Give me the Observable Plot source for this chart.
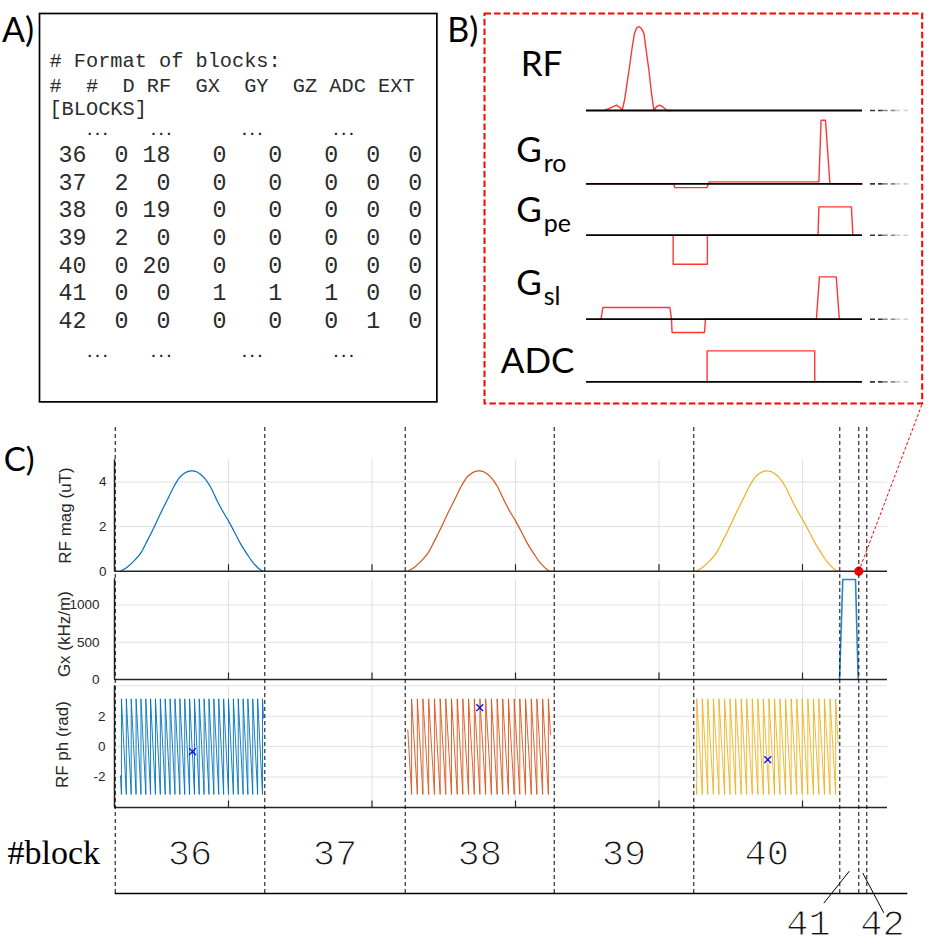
<!DOCTYPE html>
<html><head><meta charset="utf-8">
<script src="https://cdn.jsdelivr.net/npm/d3@7"></script>
<script src="https://cdn.jsdelivr.net/npm/@observablehq/plot@0.6"></script>
<style>
body{margin:0;background:#fff;}
#page{position:relative;width:933px;height:949px;overflow:hidden;background:#fff;}
#page svg{position:absolute;overflow:visible;background:transparent;max-width:none;}
</style></head><body><div id="page"></div>
<script>
// ================= DATA =================
// ---- Panel A: the [BLOCKS] table of the sequence file ----
const headerLines = ["# Format of blocks:", "#  #  D RF  GX  GY  GZ ADC EXT", "[BLOCKS]"];
const blockIds = [36, 37, 38, 39, 40, 41, 42];
const colD   = [0, 2, 0, 2, 0, 0, 0];
const colRF  = [18, 0, 19, 0, 20, 0, 0];
const colGX  = [0, 0, 0, 0, 0, 1, 0];
const colGY  = [0, 0, 0, 0, 0, 1, 0];
const colGZ  = [0, 0, 0, 0, 0, 1, 0];
const colADC = [0, 0, 0, 0, 0, 0, 1];
const colEXT = [0, 0, 0, 0, 0, 0, 0];

// ---- Panel B: schematic of one block (arbitrary time / amplitude units) ----
const bChannels = ["RF", "Gro", "Gpe", "Gsl", "ADC"];
const bRF_t  = [6.5, 8.7, 10.9, 12.3, 12.9, 13.8, 14.7, 15.6, 16.6, 17.4, 18.1, 19.0, 19.8, 20.8, 21.6, 22.6, 23.4, 24.4, 25.4, 26.5, 27.8, 29.2, 31.1];
const bRF_a  = [0, 0.27, 0.53, 0.27, 0, 1.07, 2.73, 4.4, 6.4, 7.73, 8.23, 8.4, 8.23, 7.73, 6.07, 4.07, 2.07, 0, 0.4, 0.53, 0.33, 0, 0];
const bGro_t = [0, 31.6, 32.0, 43.7, 44.4, 84.2, 85.0, 86.6, 88.2, 100];
const bGro_a = [0, 0, -0.37, -0.37, 0.2, 0.2, 6.37, 6.37, 0, 0];
const bGpe_t = [31.4, 31.4, 43.8, 43.8, 83.9, 84.2, 96.0, 96.5];
const bGpe_a = [0, -2.9, -2.9, 0, 0, 2.83, 2.83, 0];
const bGsl_t = [5.3, 5.9, 30.2, 30.8, 31.0, 42.75, 43.1, 83.3, 84.4, 90.5, 91.6];
const bGsl_a = [0, 1.17, 1.17, 0, -1.33, -1.33, 0, 0, 4.23, 4.23, 0];
const bADC_t = [43.7, 43.7, 82.7, 82.7];
const bADC_a = [0, 3.1, 3.1, 0];
const bLabelMain = ["RF", "G", "G", "G", "ADC"];
const bLabelSub  = ["", "ro", "pe", "sl", ""];

// ---- Panel C: sequence plot (time in ms) ----
const xTicks = [1, 2, 3, 4, 5];
const blockBounds = [0.2105, 1.2530, 2.2314, 3.2697, 4.2425, 5.2599, 5.3923, 5.4481];
const rfStart = [0.2474, 2.2495, 4.2592];
const rfEnd   = [1.2439, 3.2439, 5.2488];
const rfColors = ["#0072BD", "#D95319", "#EDB120"];
const rfShapeU   = [0, 0.047, 0.093, 0.140, 0.186, 0.233, 0.279, 0.326, 0.372, 0.419, 0.465, 0.500, 0.535, 0.581, 0.628, 0.674, 0.721, 0.753, 0.791, 0.837, 0.884, 0.930, 0.977, 1];
const rfShapeMag = [0, 0.18, 0.45, 0.80, 1.35, 1.95, 2.58, 3.18, 3.78, 4.25, 4.46, 4.50, 4.45, 4.22, 3.80, 3.18, 2.62, 2.28, 1.83, 1.26, 0.78, 0.36, 0.07, 0];
const gxT   = [5.2578, 5.2808, 5.3693, 5.3881];
const gxVal = [0, 1340, 1340, 0];
const phaseLimit = 3.1416;
const phStart = [-1.92, 1.10, -2.52];
const phEnd   = [1.88, 0.78, 0.17];
const phWraps36 = [0.254, 0.288, 0.322, 0.356, 0.390, 0.424, 0.457, 0.491, 0.525, 0.559, 0.593, 0.627, 0.661, 0.695, 0.729, 0.763, 0.796, 0.830, 0.864, 0.898, 0.932, 0.966, 1.000, 1.034, 1.068, 1.102, 1.135, 1.169, 1.203, 1.237];
const phWraps38 = [2.276, 2.316, 2.355, 2.395, 2.435, 2.475, 2.514, 2.554, 2.594, 2.633, 2.673, 2.713, 2.752, 2.792, 2.832, 2.872, 2.911, 2.951, 2.991, 3.030, 3.070, 3.110, 3.149, 3.189, 3.229];
const phWraps40 = [4.263, 4.302, 4.340, 4.379, 4.418, 4.457, 4.495, 4.534, 4.573, 4.611, 4.650, 4.689, 4.727, 4.766, 4.805, 4.843, 4.882, 4.921, 4.960, 4.998, 5.037, 5.076, 5.114, 5.153, 5.192, 5.231];
const phMarkT   = [0.749, 2.751, 4.758];
const phMarkVal = [-0.32, 2.56, -0.86];

// ================= LAYOUT =================
const page = document.getElementById("page");
const AX = "#262626";
const GRID = "#e1e1e1";
function place(svg, left, top) { svg.style.left = left + "px"; svg.style.top = top + "px"; page.appendChild(svg); return svg; }

// ---------- Panel A ----------
const A = {left: 39.3, top: 13.3, w: 397.4, h: 388.4};
const fieldWidths = [2, 3, 3, 4, 4, 4, 3, 3];
const fieldEnds = d3.cumsum(fieldWidths);
const cols = [blockIds, colD, colRF, colGX, colGY, colGZ, colADC, colEXT];
const cells = [];
blockIds.forEach((id, i) => cols.forEach((c, j) => cells.push({row: 4 + i, col: fieldEnds[j], txt: String(c[i])})));
const headerRows = [0.57, 1.47, 2.31];
const dotRows = [3.04, 11.04];
const dotCols = [2.79, 7.34, 13.84, 20.38];
const dots = dotRows.flatMap(r => dotCols.map(c => ({row: r, col: c})));
const nb = s => s.replace(/ /g, "\u00a0");

const plotA = Plot.plot({
  width: A.w, height: A.h, margin: 0,
  x: {domain: [-1.35, 27.04], axis: null},
  y: {domain: [12.664, -1.357], axis: null},
  style: {background: "transparent", overflow: "visible"},
  marks: [
    Plot.frame({stroke: "#000", strokeWidth: 1.7}),
    Plot.text(headerLines.map((s, i) => ({s: nb(s), row: headerRows[i]})), {x: -0.64, y: "row", text: "s", textAnchor: "start", lineAnchor: "bottom", fontFamily: "'Liberation Mono', monospace", fontSize: 20.3, fill: "#2b2b2b"}),
    Plot.text(cells, {x: "col", y: "row", text: "txt", textAnchor: "end", lineAnchor: "bottom", fontFamily: "'Liberation Mono', monospace", fontSize: 23.3, fill: "#2b2b2b"}),
    Plot.text(dots, {x: "col", y: "row", text: () => ".\u00a0.\u00a0.", textAnchor: "middle", lineAnchor: "bottom", fontFamily: "'Liberation Sans', sans-serif", fontWeight: "bold", fontSize: 14, fill: "#1a1a1a"}),
    Plot.text(["A)"], {text: d => d, frameAnchor: "top-left", dx: -37.6, dy: 28.4, textAnchor: "start", lineAnchor: "bottom", fontFamily: "Lato, sans-serif", fontSize: 34, fill: "#000"})
  ]
});
place(plotA, A.left, A.top);

// ---------- Panel B ----------
const B = {left: 484, top: 13.3, w: 437.7, h: 390};
const bOffset = [0, -7.34, -12.47, -20.87, -27.14];
const bLift = [3.43, 2.2, 1.33, 2.4, 0.9];
const bSeries = [[bRF_t, bRF_a], [bGro_t, bGro_a], [bGpe_t, bGpe_a], [bGsl_t, bGsl_a], [bADC_t, bADC_a]];
const bData = bSeries.flatMap(([ts, as], k) => ts.map((t, i) => ({ch: bChannels[k], t, v: bOffset[k] + as[i]})));
const bBase = bChannels.map((ch, k) => ({ch, y: bOffset[k]}));
const fadeSegs = [[102.9, 107.5, "#333"], [107.5, 112.1, "#8a8a8a"], [112.1, 116.7, "#cfcfcf"]];
const bFade = bBase.flatMap(b => fadeSegs.map(([x1, x2, c]) => ({y: b.y, x1, x2, c})));
const bLabels = bChannels.map((ch, k) => ({main: bLabelMain[k], sub: bLabelSub[k], y: bOffset[k] + bLift[k]}));

const plotB = Plot.plot({
  width: B.w, height: B.h, margin: 0,
  x: {domain: [-36.96, 121.63], axis: null},
  y: {domain: [-29.3, 9.7], axis: null},
  style: {background: "transparent", overflow: "visible"},
  marks: [
    Plot.frame({stroke: "#ff0000", strokeWidth: 2, strokeDasharray: "6.5,3"}),
    Plot.line(bData, {x: "t", y: "v", z: "ch", stroke: "#ff2020", strokeWidth: 1.4, strokeOpacity: 0.9}),
    Plot.ruleY(bBase, {y: "y", x1: 0, x2: 100, stroke: "#000", strokeWidth: 1.8}),
    Plot.ruleY(bFade, {y: "y", x1: "x1", x2: "x2", stroke: "c", strokeWidth: 1.6, strokeDasharray: "5,3"}),
    Plot.text(bLabels.filter(d => !d.sub), {x: d => d.main === "ADC" ? -17.7 : -16.3, y: "y", text: "main", textAnchor: "middle", lineAnchor: "bottom", fontFamily: "Lato, sans-serif", fontSize: 35, fill: "#000"}),
    Plot.text(bLabels.filter(d => d.sub), {x: -16.2, y: "y", text: "main", textAnchor: "end", lineAnchor: "bottom", fontFamily: "Lato, sans-serif", fontSize: 35, fill: "#000"}),
    Plot.text(bLabels.filter(d => d.sub), {x: -15.5, y: d => d.y - 1.0, text: "sub", textAnchor: "start", lineAnchor: "bottom", fontFamily: "Lato, sans-serif", fontSize: 25, fill: "#000"}),
    Plot.text(["B)"], {text: d => d, frameAnchor: "top-left", dx: -37.3, dy: 28.7, textAnchor: "start", lineAnchor: "bottom", fontFamily: "Lato, sans-serif", fontSize: 34, fill: "#000"})
  ]
});
place(plotB, B.left, B.top);

// ---------- Panel C ----------
const C_ML = 114, C_MR = 46, W = 933;
const xDomain = [0.2056, 5.5923];
const tickLen = 6.5;

function wavePlot({top, height, mt, mb, yDomain, yTicks, yGrid, tickPad, label, labelDx, labelDy, marks, after = []}) {
  const span = (yDomain[1] - yDomain[0]) / (height - mt - mb);
  const p = Plot.plot({
    width: W, height, marginLeft: C_ML, marginRight: C_MR, marginTop: mt, marginBottom: mb,
    x: {domain: xDomain, axis: null},
    y: {domain: yDomain, axis: null},
    style: {background: "transparent", overflow: "visible", fontFamily: "'Liberation Sans', Arial, sans-serif"},
    marks: [
      Plot.gridX(xTicks, {stroke: GRID, strokeOpacity: 1, strokeWidth: 1}),
      Plot.gridY(yGrid, {stroke: GRID, strokeOpacity: 1, strokeWidth: 1}),
      ...marks,
      Plot.ruleY([yDomain[0]], {stroke: AX, strokeWidth: 1.5}),
      Plot.ruleX([xDomain[0]], {stroke: AX, strokeWidth: 1.5}),
      Plot.ruleX(xTicks, {x: d => d, y1: yDomain[0], y2: yDomain[0] + tickLen * span, stroke: AX, strokeWidth: 1.2}),
      Plot.axisY(yTicks, {tickSize: 0, tickPadding: tickPad, tickFormat: d => String(d), fontSize: 13.5, color: AX, label: null}),
      Plot.text([label], {text: d => d, frameAnchor: "left", dx: labelDx, dy: labelDy, rotate: -90, textAnchor: "middle", lineAnchor: "bottom", fontSize: 17, fill: AX}),
      ...after
    ]
  });
  return place(p, 0, top);
}

// RF magnitude
const rfMag = rfStart.map((s, k) => rfShapeU.map((u, i) => ({t: s + u * (rfEnd[k] - s), v: rfShapeMag[i]})));
const RFM = {top: 445, height: 135, mt: 14.3, mb: 9.3};
wavePlot({
  ...RFM, yDomain: [0, 5], yTicks: [0, 2, 4], yGrid: [2, 4], tickPad: 8,
  label: "RF mag (uT)", labelDx: -43.5, labelDy: 0,
  marks: rfMag.map((d, k) => Plot.line(d, {x: "t", y: "v", stroke: rfColors[k], strokeWidth: 1.2, curve: "catmull-rom"})),
  after: [Plot.dot([{t: blockBounds[6], v: 0}], {x: "t", y: "v", r: 4.6, fill: "#ff0000"})]
});

// Gx
const gxData = gxT.map((t, i) => ({t, v: gxVal[i]}));
wavePlot({
  top: 571, height: 118, mt: 7.3, mb: 10, yDomain: [0, 1350], yTicks: [0, 500, 1000], yGrid: [500, 1000], tickPad: 15,
  label: "Gx (kHz/m)", labelDx: -44.5, labelDy: 5,
  marks: [Plot.line(gxData, {x: "t", y: "v", stroke: "#0072BD", strokeWidth: 1.6, strokeOpacity: 0.85})]
});

// RF phase
const wraps = [phWraps36, phWraps38, phWraps40];
const phData = wraps.map((ws, k) => [
  {t: rfStart[k], v: phStart[k]},
  ...ws.flatMap(w => [{t: w, v: -phaseLimit}, {t: w, v: phaseLimit}]),
  {t: rfEnd[k], v: phEnd[k]}
]);
const phMarks = phMarkT.map((t, i) => ({t, v: phMarkVal[i]}));
wavePlot({
  top: 680, height: 135, mt: 5.3, mb: 8, yDomain: [-4, 4], yTicks: [-2, 0, 2], yGrid: [-2, 0, 2, 4], tickPad: 9,
  label: "RF ph (rad)", labelDx: -47, labelDy: -2,
  marks: [
    ...phData.map((d, k) => Plot.line(d, {x: "t", y: "v", stroke: rfColors[k], strokeWidth: 1, strokeOpacity: 0.9})),
    Plot.dot(phMarks, {x: "t", y: "v", symbol: "times", r: 3.2, stroke: "#0000ff", strokeWidth: 1.3})
  ]
});

// Block overlay: dashed block boundaries, block numbers, connector
const BL = {top: 420, height: 529, mt: 7, mb: 56};
const blFrameTop = BL.top + BL.mt, blFrameBot = BL.top + BL.height - BL.mb;
const xPage = Plot.scale({x: {domain: xDomain, range: [C_ML, W - C_MR]}});
const yBlock = Plot.scale({y: {domain: [0, 1], range: [blFrameBot, blFrameTop]}});
const blockAxisEnd = xPage.invert(907.3);
const labelRowY = 0.0858;
const mainBlocks = blockIds.slice(0, 5).map((id, i) => ({id, mid: (blockBounds[i] + blockBounds[i + 1]) / 2}));
const callouts = [
  {id: 41, tip: (blockBounds[5] + blockBounds[6]) / 2, tipV: 0.0479, endT: 5.1484, endV: -0.0208, labelT: 5.0418},
  {id: 42, tip: (blockBounds[6] + blockBounds[7]) / 2, tipV: 0.0436, endT: 5.5666, endV: -0.0414, labelT: 5.5575}
];
const calloutLabelV = -0.0637;
// connector from the red dot (end of block 41 on the RF-mag axis) to the corner of panel B
const dotPageY = RFM.top + RFM.height - RFM.mb;
const connector = [{
  t1: blockBounds[6], v1: yBlock.invert(dotPageY),
  t2: xPage.invert(B.left + B.w), v2: yBlock.invert(B.top + B.h)
}];
const numStyle = {fontFamily: "'Liberation Mono', monospace", fontSize: 37, fill: "#111", stroke: "#fff", strokeWidth: 1.1, paintOrder: "fill"};

const plotBlocks = Plot.plot({
  width: W, height: BL.height, marginLeft: C_ML, marginRight: C_MR, marginTop: BL.mt, marginBottom: BL.mb,
  x: {domain: xDomain, axis: null},
  y: {domain: [0, 1], axis: null},
  style: {background: "transparent", overflow: "visible"},
  marks: [
    Plot.ruleX(blockBounds, {stroke: "#000", strokeWidth: 1, strokeDasharray: "4,3"}),
    Plot.ruleY([0], {x1: blockBounds[0], x2: blockAxisEnd, stroke: "#000", strokeWidth: 1.3}),
    Plot.text(mainBlocks, {x: "mid", y: labelRowY, text: "id", ...numStyle}),
    Plot.text(["#block"], {text: d => d, x: xDomain[0], y: labelRowY, dx: -107, textAnchor: "start", fontFamily: "'Liberation Serif', serif", fontSize: 34, fill: "#000"}),
    Plot.link(callouts, {x1: "tip", y1: "tipV", x2: "endT", y2: "endV", stroke: "#000", strokeWidth: 1}),
    Plot.text(callouts, {x: "labelT", y: calloutLabelV, text: "id", ...numStyle}),
    Plot.link(connector, {x1: "t1", y1: "v1", x2: "t2", y2: "v2", stroke: "#ff0000", strokeWidth: 1, strokeDasharray: "3,2"}),
    Plot.text(["C)"], {text: d => d, frameAnchor: "top-left", dx: -110.7, dy: 43, textAnchor: "start", lineAnchor: "bottom", fontFamily: "Lato, sans-serif", fontSize: 33, fill: "#000"})
  ]
});
place(plotBlocks, 0, BL.top);
</script></body></html>
